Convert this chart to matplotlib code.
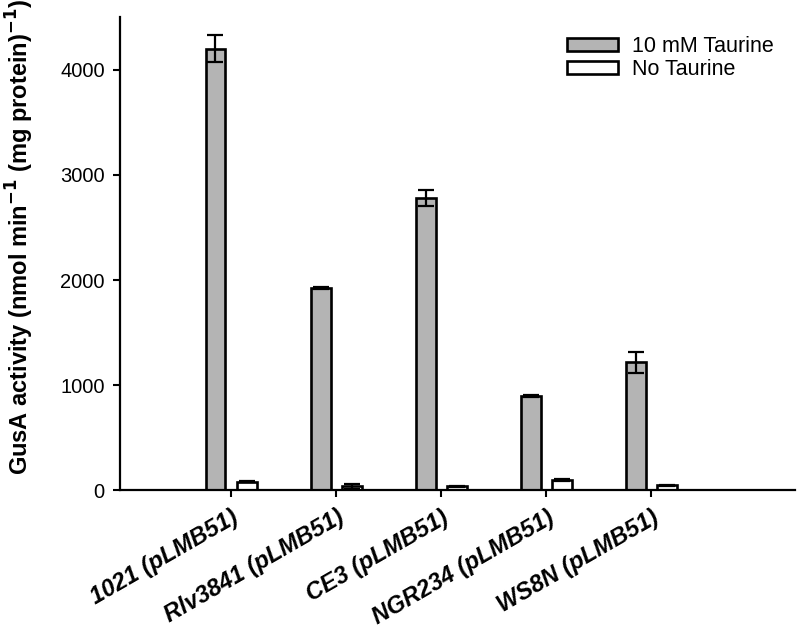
import matplotlib
matplotlib.use("Agg")
import matplotlib.pyplot as plt
import numpy as np

categories = ["1021 (pLMB51)", "Rlv3841 (pLMB51)", "CE3 (pLMB51)", "NGR234 (pLMB51)", "WS8N (pLMB51)"]
taurine = [4200, 1925, 2780, 900, 1220]
taurine_err = [130, 6, 75, 12, 100]
no_taurine = [85, 38, 40, 100, 50]
no_taurine_err = [8, 28, 6, 8, 6]
series_names = ["10 mM Taurine", "No Taurine"]
yticks = [0, 1000, 2000, 3000, 4000]

plt.rcParams['font.family'] = ['Liberation Sans', 'DejaVu Sans']

fig = plt.figure(figsize=(8, 6.35), dpi=100)
ax = fig.add_axes([0.15, 0.2276, 0.844, 0.7457])

x = np.arange(len(categories))
w = 0.19
off = 0.148
ax.bar(x - off, taurine, width=w, color="#b4b4b4", edgecolor="black", linewidth=1.9,
       yerr=taurine_err, error_kw=dict(ecolor="black", elinewidth=1.6, capsize=5.5, capthick=1.6),
       label=series_names[0], zorder=2)
ax.bar(x + off, no_taurine, width=w, color="white", edgecolor="black", linewidth=1.9,
       yerr=no_taurine_err, error_kw=dict(ecolor="black", elinewidth=1.6, capsize=5.5, capthick=1.6),
       label=series_names[1], zorder=2)

ax.set_xlim(-1.057, 5.37)
ax.set_ylim(0, 4500)
ax.set_yticks(yticks)
ax.set_yticklabels([str(v) for v in yticks], fontsize=14.5)
ax.set_xticks(x)
ax.set_xticklabels(categories, rotation=30, ha="right", rotation_mode="anchor",
                   fontsize=17, fontweight="bold", fontstyle="italic")

for s in ["top", "right"]:
    ax.spines[s].set_visible(False)
for s in ["left", "bottom"]:
    ax.spines[s].set_linewidth(1.6)
ax.tick_params(axis="both", direction="out", length=5, width=1.5)
ax.tick_params(axis="x", pad=6)
ax.tick_params(axis="y", pad=6)

ax.set_ylabel("GusA activity (nmol min$^{\\mathbf{-1}}$ (mg protein)$^{\\mathbf{-1}}$)",
              fontsize=17, fontweight="bold", va="center")
ax.yaxis.set_label_coords(-0.148, 0.535)

leg = ax.legend(loc="upper left", bbox_to_anchor=(567 / 800, 1 - 36 / 635),
                bbox_transform=fig.transFigure, frameon=False, fontsize=15.5,
                borderpad=0, borderaxespad=0,
                handlelength=2.35, handleheight=0.6, handletextpad=0.65, labelspacing=0.1)

fig.savefig("out.png", dpi=100)
